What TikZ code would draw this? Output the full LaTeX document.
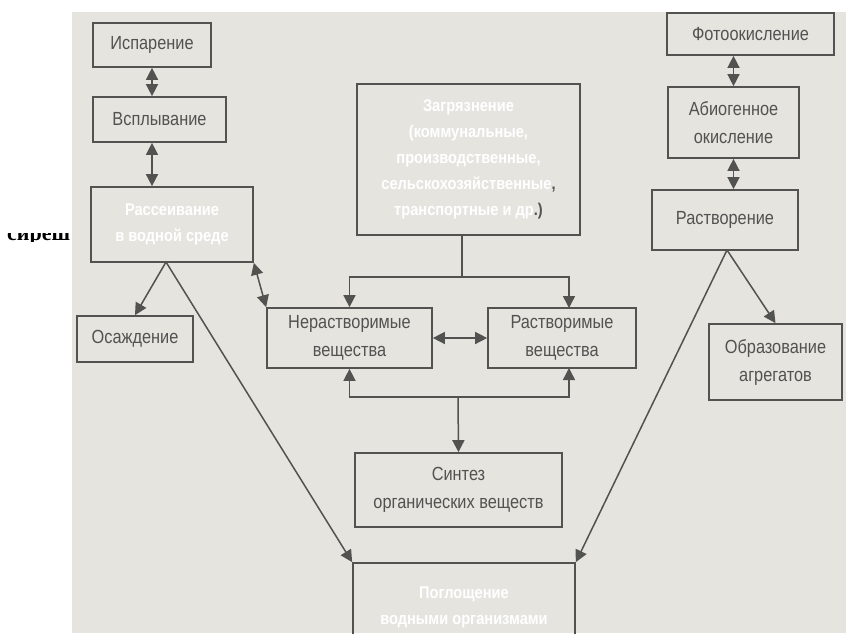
\documentclass[tikz,border=0pt]{standalone}
\usepackage{fontspec}
\setmainfont{Liberation Sans}[FakeStretch=0.86]
\newfontfamily\cutfont{Liberation Serif}
\usetikzlibrary{arrows.meta}
\definecolor{paper}{RGB}{229,228,223}
\definecolor{ink}{RGB}{82,82,80}

\begin{document}
\begin{tikzpicture}[x=1pt,y=-1pt,
  blk/.style={draw=ink, line width=1.7pt, text=ink, align=center, inner sep=0pt,
    font=\fontsize{19}{28}\selectfont},
  hid/.style={blk, text=white, font=\bfseries\fontsize{17}{26}\selectfont},
  arr/.style={draw=ink, line width=1.5pt, -{Triangle[length=12pt,width=12pt]}},
  darr/.style={draw=ink, line width=1.5pt,
    {Triangle[length=12pt,width=12pt]}-{Triangle[length=12pt,width=12pt]}},
  lin/.style={draw=ink, line width=1.5pt}]
%\draw[help lines] (0,0) grid (846,633);

\useasboundingbox (0,0) rectangle (846,633);
\fill[paper] (72,12) rectangle (846,633);

\begin{scope}
\clip (0,233.5) rectangle (72,241);
\node[font=\cutfont\bfseries\fontsize{22}{24}\selectfont, anchor=base west, inner sep=0pt] (cut) at (7,240) {сиреш};
\end{scope}

\node[blk, minimum width=118pt, minimum height=44pt] (isp) at (152,45) {Испарение};
\node[blk, minimum width=133pt, minimum height=45pt] (vsp) at (159.5,119.5) {Всплывание};
\node[hid, minimum width=162pt, minimum height=75pt] (rasp) at (172,224.5) {Рассеивание\\в водной среде};
\node[blk, minimum width=116pt, minimum height=46pt] (osazh) at (135,339) {Осаждение};

\node[hid, minimum width=223pt, minimum height=151pt] (zagr) at (468.5,159.5)
  {Загрязнение\\(коммунальные,\\производственные,\\сельскохозяйственные{\color{ink},}\\транспортные и др{\color{ink}.)}};
\node[blk, minimum width=165pt, minimum height=60pt] (neras) at (349.5,338) {Нерастворимые\\вещества};
\node[blk, minimum width=148pt, minimum height=60pt] (ras) at (562,338) {Растворимые\\вещества};
\node[blk, minimum width=207pt, minimum height=74pt] (sint) at (458.5,490) {Синтез\\органических веществ};
\node[hid, minimum width=222pt, minimum height=88pt] (nakop) at (464,607) {Поглощение\\водными организмами};

\node[blk, minimum width=167pt, minimum height=42pt] (foto) at (750.5,34) {Фотоокисление};
\node[blk, minimum width=131pt, minimum height=71pt] (abio) at (733.5,122.5) {Абиогенное\\окисление};
\node[blk, minimum width=146pt, minimum height=60pt] (rastv) at (725,220) {Растворение};
\node[blk, minimum width=133pt, minimum height=76pt] (obraz) at (775.5,362) {Образование\\агрегатов};

\coordinate (split) at (462,277);
\coordinate (join) at (458,397);
\coordinate (rasL) at (166,262);
\coordinate (rasR) at (727,250);

\draw[darr] (isp.south) -- (isp.south |- vsp.north);
\draw[darr] (isp.south |- vsp.south) -- (isp.south |- rasp.north);
\draw[darr] (abio.north) -- (abio.north |- foto.south);
\draw[darr] (abio.south) -- (abio.south |- rastv.north);

\draw[lin] (zagr.south -| split) -- (split);
\draw[arr] (split) -| (neras.north);
\draw[arr] (split) -| (569,308);
\draw[arr] (join) -| (neras.south);
\draw[arr] (join) -| (569,368);
\draw[arr] (join) -- (sint.north);
\draw[darr] (neras.east) -- (ras.west);
\draw[darr] (rasp.south east) -- (neras.north west);

\draw[arr] (rasL) -- (osazh.north);
\draw[arr] (rasL) -- (nakop.north west);
\draw[arr] (rasR) -- (obraz.north);
\draw[arr] (rasR) -- (nakop.north east);

\end{tikzpicture}
\end{document}
